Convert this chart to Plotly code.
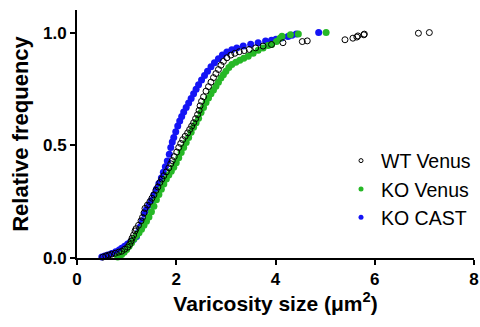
import plotly.graph_objects as go

# ---- data ----
wt_x = [0.52, 0.58, 0.64, 0.70, 0.77, 0.84, 0.90, 0.96, 1.02, 1.06, 1.09, 1.11, 1.14, 1.17, 1.19,
        1.24, 1.29, 1.32, 1.35, 1.37, 1.42, 1.47, 1.51, 1.55, 1.59, 1.63, 1.67, 1.71, 1.75, 1.80,
        1.85, 1.89, 1.92, 1.96, 2.01, 2.05, 2.09, 2.13, 2.18, 2.23, 2.27, 2.31, 2.35, 2.39, 2.43,
        2.46, 2.48, 2.51, 2.55, 2.60, 2.65, 2.70, 2.75, 2.80, 2.85, 2.90, 2.95, 3.02, 3.10, 3.18,
        3.27, 3.37, 3.47, 3.60, 3.75, 3.92, 4.15, 4.54, 4.64, 5.40, 5.56, 5.64, 5.66, 5.78, 5.79,
        6.88, 7.10]
wt_y = [0.004, 0.009, 0.013, 0.017, 0.021, 0.026, 0.030, 0.039, 0.048, 0.060, 0.075, 0.088, 0.102, 0.120, 0.130,
        0.145, 0.165, 0.180, 0.200, 0.220, 0.235, 0.250, 0.265, 0.280, 0.300, 0.315, 0.335, 0.350, 0.365, 0.382,
        0.400, 0.418, 0.432, 0.450, 0.470, 0.490, 0.508, 0.525, 0.540, 0.555, 0.570, 0.585, 0.600, 0.618, 0.636,
        0.655, 0.675, 0.695, 0.715, 0.740, 0.760, 0.780, 0.800, 0.818, 0.836, 0.855, 0.872, 0.888, 0.900, 0.908,
        0.915, 0.920, 0.925, 0.932, 0.940, 0.947, 0.955, 0.960, 0.963, 0.968, 0.975, 0.980, 0.985, 0.990, 0.993,
        0.997, 1.000]

kov_x = [0.82, 0.86, 0.90, 0.95, 1.00, 1.05, 1.10, 1.15, 1.20, 1.25, 1.30, 1.35, 1.40, 1.45, 1.50,
         1.55, 1.60, 1.65, 1.70, 1.75, 1.80, 1.85, 1.90, 1.95, 2.00, 2.05, 2.10, 2.15, 2.20, 2.25,
         2.30, 2.35, 2.40, 2.45, 2.50, 2.55, 2.60, 2.65, 2.70, 2.75, 2.80, 2.85, 2.90, 2.95, 3.00,
         3.06, 3.12, 3.20, 3.28, 3.36, 3.45, 3.55, 3.65, 3.75, 3.85, 3.92, 4.02, 4.09, 4.13, 4.30,
         4.46, 5.02]
kov_y = [0.004, 0.010, 0.016, 0.025, 0.038, 0.052, 0.068, 0.085, 0.100, 0.112, 0.128, 0.145, 0.163, 0.182, 0.205,
         0.230, 0.258, 0.282, 0.305, 0.328, 0.350, 0.368, 0.385, 0.402, 0.422, 0.445, 0.468, 0.490, 0.512, 0.535,
         0.558, 0.580, 0.600, 0.620, 0.645, 0.668, 0.690, 0.710, 0.728, 0.745, 0.762, 0.780, 0.798, 0.813, 0.828,
         0.845, 0.858, 0.868, 0.877, 0.886, 0.895, 0.908, 0.922, 0.932, 0.942, 0.947, 0.960, 0.975, 0.984, 0.990,
         0.994, 1.000]

koc_x = [0.50, 0.56, 0.62, 0.70, 0.78, 0.85, 0.90, 0.96, 1.02, 1.08, 1.14, 1.20, 1.24, 1.28, 1.32,
         1.36, 1.40, 1.45, 1.50, 1.55, 1.60, 1.65, 1.70, 1.74, 1.78, 1.82, 1.86, 1.89, 1.92, 1.95,
         1.99, 2.03, 2.07, 2.11, 2.15, 2.20, 2.25, 2.30, 2.35, 2.40, 2.45, 2.51, 2.57, 2.63, 2.70,
         2.77, 2.85, 2.93, 3.02, 3.12, 3.22, 3.35, 3.50, 3.65, 3.80, 3.92, 4.01, 4.12, 4.25, 4.33,
         4.42, 4.87]
koc_y = [0.004, 0.009, 0.013, 0.020, 0.028, 0.036, 0.043, 0.052, 0.062, 0.072, 0.082, 0.095, 0.115, 0.140, 0.165,
         0.195, 0.215, 0.235, 0.255, 0.280, 0.305, 0.330, 0.355, 0.380, 0.405, 0.430, 0.460, 0.490, 0.515, 0.535,
         0.560, 0.585, 0.608, 0.628, 0.648, 0.668, 0.688, 0.708, 0.728, 0.748, 0.768, 0.790, 0.810, 0.828, 0.848,
         0.866, 0.884, 0.900, 0.914, 0.924, 0.932, 0.940, 0.948, 0.955, 0.962, 0.966, 0.970, 0.976, 0.982, 0.988,
         0.994, 1.000]

x_ticks = [0, 2, 4, 6, 8]
y_ticks = [0.0, 0.5, 1.0]
names = ["WT Venus", "KO Venus", "KO CAST"]

GREEN = "#26b826"
BLUE = "#1414f5"
FONT = "Arial, Liberation Sans, sans-serif"

fig = go.Figure()

# data traces (no legend)
fig.add_trace(go.Scatter(x=koc_x, y=koc_y, mode="markers", showlegend=False, cliponaxis=False,
                         marker=dict(symbol="circle", size=7, color=BLUE, line=dict(width=0))))
fig.add_trace(go.Scatter(x=kov_x, y=kov_y, mode="markers", showlegend=False, cliponaxis=False,
                         marker=dict(symbol="circle", size=7, color=GREEN, line=dict(width=0))))
fig.add_trace(go.Scatter(x=wt_x, y=wt_y, mode="markers", showlegend=False, cliponaxis=False,
                         marker=dict(symbol="circle-open", size=6, color="black", line=dict(width=1))))

# legend entries
fig.add_trace(go.Scatter(x=[None], y=[None], mode="markers", name=names[0], legendgroup="a",
                         marker=dict(symbol="circle-open", size=4, color="black", line=dict(width=1))))
fig.add_trace(go.Scatter(x=[None], y=[None], mode="markers", name=names[1], legendgroup="b",
                         marker=dict(symbol="circle", size=5, color=GREEN)))
fig.add_trace(go.Scatter(x=[None], y=[None], mode="markers", name=names[2], legendgroup="c",
                         marker=dict(symbol="circle", size=5, color=BLUE)))

fig.update_layout(
    width=480, height=327,
    margin=dict(l=77, r=6, t=10, b=69, autoexpand=False),
    plot_bgcolor="white", paper_bgcolor="white",
    font=dict(family=FONT, color="black"),
    showlegend=True,
    legend=dict(x=0.665, y=0.47, xanchor="left", yanchor="top",
                font=dict(family=FONT, size=19.5, color="black"),
                tracegroupgap=0, bgcolor="rgba(0,0,0,0)", traceorder="normal"),
    xaxis=dict(range=[0, 8], tickvals=x_ticks, ticktext=[str(v) for v in x_ticks],
               showgrid=False, zeroline=False, showline=True, linecolor="black", linewidth=2,
               ticks="outside", ticklen=5, tickwidth=2, tickcolor="black",
               ticklabeloverflow="allow",
               tickfont=dict(family=FONT, size=17, weight="bold"),
               title=dict(text="Varicosity size (μm<sup>2</sup>)", standoff=8,
                          font=dict(family=FONT, size=21, weight="bold"))),
    yaxis=dict(range=[0, 1.1], tickvals=y_ticks, tickformat=".1f",
               showgrid=False, zeroline=False, showline=True, linecolor="black", linewidth=2,
               ticks="outside", ticklen=5, tickwidth=2, tickcolor="black",
               tickfont=dict(family=FONT, size=17, weight="bold"),
               title=dict(text="Relative frequency", standoff=8,
                          font=dict(family=FONT, size=22, weight="bold"))),
)

fig.write_html("out.html",
               config={"displayModeBar": False},
               post_script="document.body.style.margin='0';document.body.style.overflow='hidden';")
